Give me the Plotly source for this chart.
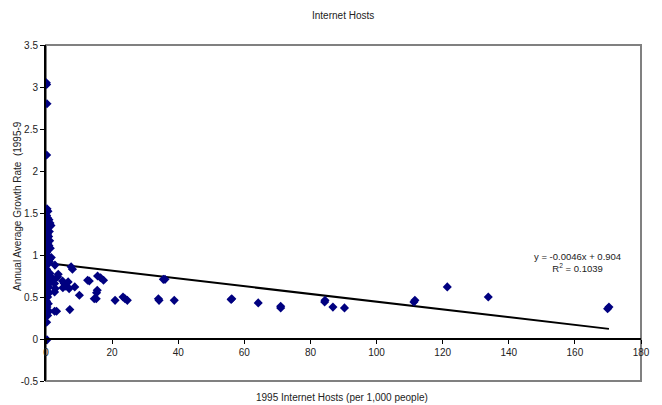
import plotly.graph_objects as go

# 1995 internet hosts per 1,000 people vs. annual average growth rate
hosts = [
    0.1, 0.2, 0.3, 0.2, 0.3, 0.6, 0.2, 0.5, 0.9, 0.4, 1.2, 0.3, 1.5, 0.7, 0.2,
    1.0, 0.5, 0.8, 0.3, 1.1, 0.2, 0.6, 0.9, 0.3, 1.3, 0.5, 0.2, 0.8, 1.6, 1.1,
    0.4, 1.0, 0.3, 0.2, 0.6, 1.2, 0.2, 0.9, 0.4, 1.4, 0.3, 0.8, 0.2, 1.0, 0.5,
    0.2, 0.7, 0.3, 0.9, 0.5, 0.2, 0.3,
    2.7, 1.8, 2.2, 2.6, 3.7, 3.5, 2.8, 2.6, 5.0, 5.5, 6.7, 6.0, 5.1, 7.0, 8.7,
    7.6, 8.0, 10.1, 12.6, 13.1, 15.6, 16.5, 17.4, 15.5, 15.3, 14.6, 15.2, 2.6,
    3.2, 7.2, 20.9, 23.3, 23.9, 24.6,
    34.0, 34.2, 35.5, 36.0, 38.8, 56.0, 56.2, 64.2, 71.0, 71.0, 84.3, 84.4,
    86.8, 90.3, 111.3, 111.6, 121.4, 133.8, 169.9, 170.3,
]
growth = [
    3.05, 3.03, 2.80, 2.19, 1.55, 1.52, 1.47, 1.44, 1.42, 1.40, 1.38, 1.35, 1.35,
    1.33, 1.30, 1.28, 1.25, 1.22, 1.20, 1.17, 1.15, 1.13, 1.11, 1.10, 1.08, 1.06,
    1.03, 0.98, 0.97, 0.95, 0.93, 0.92, 0.88, 0.83, 0.80, 0.78, 0.75, 0.72, 0.70,
    0.68, 0.65, 0.62, 0.58, 0.55, 0.50, 0.45, 0.42, 0.38, 0.33, 0.28, 0.20, -0.01,
    0.88, 0.73, 0.70, 0.66, 0.77, 0.74, 0.60, 0.56, 0.69, 0.66, 0.68, 0.63, 0.61,
    0.60, 0.62, 0.86, 0.83, 0.52, 0.70, 0.69, 0.75, 0.73, 0.70, 0.58, 0.55, 0.48,
    0.48, 0.33, 0.33, 0.35, 0.46, 0.50, 0.48, 0.46,
    0.48, 0.46, 0.71, 0.71, 0.46, 0.47, 0.48, 0.43, 0.37, 0.39, 0.44, 0.46,
    0.38, 0.37, 0.44, 0.46, 0.62, 0.50, 0.36, 0.38,
]

# Linear trend as stated in the label
slope = -0.0046
intercept = 0.904
r_squared = 0.1039

y_ticks = [-0.5, 0, 0.5, 1, 1.5, 2, 2.5, 3, 3.5]
y_tick_text = ["-0.5", "0", "0.5", "1", "1.5", "2", "2.5", "3", "3.5"]
x_ticks = [0, 20, 40, 60, 80, 100, 120, 140, 160, 180]

font_family = "Arial, Liberation Sans, sans-serif"

x_trend = [min(hosts), max(hosts)]
y_trend = [intercept + slope * v for v in x_trend]

fig = go.Figure()
fig.add_trace(go.Scatter(
    x=x_trend, y=y_trend, mode="lines",
    line=dict(color="black", width=2), hoverinfo="skip", showlegend=False,
))
fig.add_trace(go.Scatter(
    x=hosts, y=growth, mode="markers",
    marker=dict(symbol="diamond", size=7, color="#000080",
                line=dict(width=0)),
    showlegend=False,
))

y_min, y_max = -0.5, 3.5
zero_pos = (0 - y_min) / (y_max - y_min)

eq_text = (f"y = {slope}x + {intercept}<br>"
           f"R<sup>2</sup> = {r_squared}")

fig.update_layout(
    width=662, height=405,
    margin=dict(l=46, r=13, t=45, b=24),
    paper_bgcolor="white", plot_bgcolor="white",
    font=dict(family=font_family, size=10, color="black"),
    xaxis=dict(
        range=[0, 180], tickvals=x_ticks, showgrid=False, zeroline=False,
        showline=True, linecolor="black", linewidth=2,
        ticks="outside", ticklen=4, tickwidth=1, tickcolor="black",
        anchor="free", position=zero_pos,
        tickfont=dict(size=10, color="#222"),
    ),
    yaxis=dict(
        range=[y_min, y_max], tickvals=y_ticks, ticktext=y_tick_text,
        showgrid=False, zeroline=False,
        showline=True, linecolor="black", linewidth=2,
        ticks="outside", ticklen=4, tickwidth=1, tickcolor="black",
        tickfont=dict(size=10, color="#222"),
    ),
    shapes=[dict(
        type="rect", xref="paper", yref="paper", x0=0, x1=1, y0=0, y1=1,
        line=dict(color="#808080", width=2), layer="below",
    )],
    annotations=[
        dict(text="Internet Hosts", xref="paper", yref="paper",
             x=(347 - 46) / 603, y=1, yshift=30,
             xanchor="center", yanchor="middle", showarrow=False,
             font=dict(size=10, color="#222")),
        dict(text="1995 Internet Hosts (per 1,000 people)", xref="paper",
             yref="paper", x=(346 - 46) / 603, y=0, yshift=-16,
             xanchor="center", yanchor="middle",
             showarrow=False, font=dict(size=10, color="#222")),
        dict(text="Annual Average Growth Rate  (1995-9", xref="paper",
             yref="paper", x=0, xshift=-29, y=(381 - 206) / 336,
             xanchor="center", yanchor="middle",
             textangle=-90, showarrow=False,
             font=dict(size=10, color="#222")),
        dict(text=eq_text, xref="paper", yref="paper",
             x=(585 - 46) / 603, y=(381 - 262) / 336,
             xanchor="center", yanchor="middle", align="center",
             showarrow=False, font=dict(size=9.5, color="#222")),
    ],
)

fig.write_html("out.html")
